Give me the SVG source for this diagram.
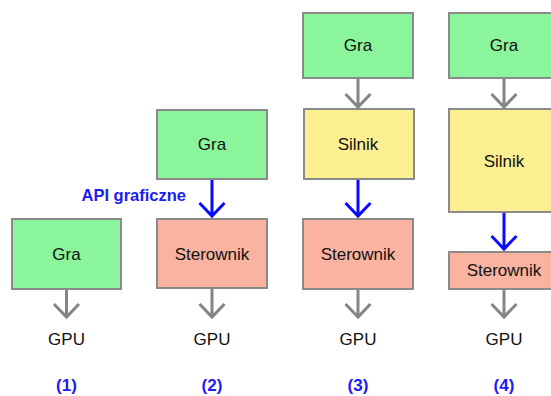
<svg xmlns="http://www.w3.org/2000/svg" width="551" height="396" viewBox="0 0 551 396">
  <style>
    .box { stroke: #8a8a8a; stroke-width: 2; }
    .gra { fill: #8af59b; }
    .silnik { fill: #fcef92; }
    .ster { fill: #f9b3a0; }
    .lbl { font-family: "Liberation Sans", Arial, sans-serif; font-size: 17px; fill: #111; text-anchor: middle; }
    .num { font-family: "Liberation Sans", Arial, sans-serif; font-size: 17px; font-weight: bold; fill: #1c1cf5; text-anchor: middle; }
    .api { font-family: "Liberation Sans", Arial, sans-serif; font-size: 16.5px; font-weight: bold; fill: #1c1cf5; text-anchor: end; }
    .g { fill: none; stroke: #858585; stroke-width: 3; }
    .b { fill: none; stroke: #0a0aff; stroke-width: 3; }
  </style>
  <rect width="551" height="396" fill="#ffffff"/>

  <!-- connectors -->
  <g id="connectors">
    <!-- column 1 -->
    <path class="g" d="M66.5 289 V317 M54 304 L66.5 317 L79 304"/>
    <!-- column 2 -->
    <path class="b" d="M212 179 V216 M199.5 203 L212 216 L224.5 203"/>
    <path class="g" d="M212 288 V317 M199.5 304 L212 317 L224.5 304"/>
    <!-- column 3 -->
    <path class="g" d="M358 78 V107 M345.5 94 L358 107 L370.5 94"/>
    <path class="b" d="M358 179 V216 M345.5 203 L358 216 L370.5 203"/>
    <path class="g" d="M358 289 V317 M345.5 304 L358 317 L370.5 304"/>
    <!-- column 4 -->
    <path class="g" d="M504 78 V107 M491.5 94 L504 107 L516.5 94"/>
    <path class="b" d="M504 212 V249 M491.5 236 L504 249 L516.5 236"/>
    <path class="g" d="M504 289 V317 M491.5 304 L504 317 L516.5 304"/>
  </g>

  <!-- column 1 -->
  <g id="c1-gra"><rect class="box gra" x="12" y="219" width="109" height="70"/><text class="lbl" x="66.5" y="260">Gra</text></g>
  <g id="c1-gpu"><text class="lbl" x="66.5" y="345">GPU</text></g>
  <g id="c1-num"><text class="num" x="66.5" y="391">(1)</text></g>

  <!-- column 2 -->
  <g id="c2-gra"><rect class="box gra" x="157" y="110" width="110" height="69"/><text class="lbl" x="212" y="150">Gra</text></g>
  <g id="c2-api"><text class="api" x="186" y="201">API graficzne</text></g>
  <g id="c2-ster"><rect class="box ster" x="157" y="219" width="110" height="69"/><text class="lbl" x="212" y="260">Sterownik</text></g>
  <g id="c2-gpu"><text class="lbl" x="212" y="345">GPU</text></g>
  <g id="c2-num"><text class="num" x="212" y="391">(2)</text></g>

  <!-- column 3 -->
  <g id="c3-gra"><rect class="box gra" x="303" y="13" width="110" height="65"/><text class="lbl" x="358" y="51">Gra</text></g>
  <g id="c3-silnik"><rect class="box silnik" x="304" y="109" width="110" height="70"/><text class="lbl" x="358" y="150">Silnik</text></g>
  <g id="c3-ster"><rect class="box ster" x="303" y="219" width="110" height="70"/><text class="lbl" x="358" y="260">Sterownik</text></g>
  <g id="c3-gpu"><text class="lbl" x="358" y="345">GPU</text></g>
  <g id="c3-num"><text class="num" x="358" y="391">(3)</text></g>

  <!-- column 4 -->
  <g id="c4-gra"><rect class="box gra" x="449" y="13" width="110" height="65"/><text class="lbl" x="504" y="51">Gra</text></g>
  <g id="c4-silnik"><rect class="box silnik" x="449" y="109" width="110" height="103"/><text class="lbl" x="504" y="167">Silnik</text></g>
  <g id="c4-ster"><rect class="box ster" x="449" y="252" width="110" height="37"/><text class="lbl" x="504" y="276">Sterownik</text></g>
  <g id="c4-gpu"><text class="lbl" x="504" y="345">GPU</text></g>
  <g id="c4-num"><text class="num" x="504" y="391">(4)</text></g>
</svg>
